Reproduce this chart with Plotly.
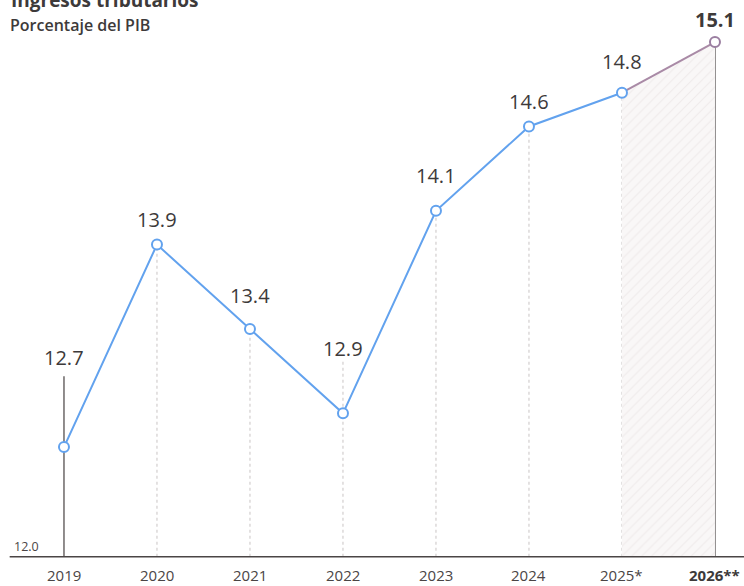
import plotly.graph_objects as go

years = ["2019", "2020", "2021", "2022", "2023", "2024", "2025*", "2026**"]
values = [12.7, 13.9, 13.4, 12.9, 14.1, 14.6, 14.8, 15.1]
value_labels = ["12.7", "13.9", "13.4", "12.9", "14.1", "14.6", "14.8", "15.1"]
base_label = "12.0"
title = "Ingresos tributarios"
subtitle = "Porcentaje del PIB"

# style
FLOOR = 12.05   # drawing level of the baseline
label_shift = [90, 25, 33, 65, 35, 25, 31, 23]
BLUE = "#62a2ee"
PURPLE = "#a98aa6"
TXT = "#3d3a3a"
FONT = "Open Sans"

xs = list(range(len(years)))
fig = go.Figure()

# hatched projection area
fig.add_trace(go.Scatter(
    x=[xs[6], xs[6], xs[7], xs[7], xs[6]],
    y=[FLOOR, values[6], values[7], FLOOR, FLOOR],
    fill="toself", mode="none",
    fillcolor="rgba(245,242,242,1)",
    fillpattern=dict(shape="/", fgcolor="#e4dede", bgcolor="#f9f7f7", size=7, solidity=0.15),
    hoverinfo="skip", showlegend=False))

shapes = []
for i, v in enumerate(values):
    if i in (0, 7):
        continue
    top = v + 0.32 if i == 3 else v
    shapes.append(dict(type="line", xref="x", yref="y", x0=xs[i], x1=xs[i], y0=FLOOR, y1=top,
                       line=dict(color="#c9c4c4", width=1, dash="dot"), layer="below"))
shapes.append(dict(type="line", xref="x", yref="y", x0=xs[0], x1=xs[0], y0=FLOOR, y1=values[0] + 0.42,
                   line=dict(color="#555050", width=1.3), layer="below"))
shapes.append(dict(type="line", xref="x", yref="y", x0=xs[7], x1=xs[7], y0=FLOOR, y1=values[7],
                   line=dict(color="#555050", width=1.3), layer="below"))
shapes.append(dict(type="line", xref="paper", yref="y", x0=0.013, x1=1, y0=FLOOR, y1=FLOOR,
                   line=dict(color="#4a4545", width=1.5)))

fig.add_trace(go.Scatter(x=xs[:7], y=values[:7], mode="lines",
                         line=dict(color=BLUE, width=2), hoverinfo="skip", showlegend=False))
fig.add_trace(go.Scatter(x=xs[6:], y=values[6:], mode="lines",
                         line=dict(color=PURPLE, width=2), hoverinfo="skip", showlegend=False))
fig.add_trace(go.Scatter(x=xs, y=values, mode="markers",
                         marker=dict(size=10, color="white",
                                     line=dict(color=[BLUE] * 7 + ["#9a7ea0"], width=2)),
                         hoverinfo="skip", showlegend=False))

ann = []
for i, v in enumerate(values):
    ann.append(dict(x=xs[i], y=v, xref="x", yref="y", text=value_labels[i], showarrow=False,
                    yshift=label_shift[i], yanchor="middle",
                    font=dict(family=FONT, size=20, color=TXT,
                              weight="bold" if i == 7 else "normal")))
for i, y in enumerate(years):
    ann.append(dict(x=xs[i], y=FLOOR, xref="x", yref="y", text=y, showarrow=False,
                    yshift=-18, yanchor="middle",
                    font=dict(family=FONT, size=15, color=TXT if i == 7 else "#4a4545",
                              weight="bold" if i == 7 else "normal")))
ann.append(dict(x=0.016, y=FLOOR, xref="paper", yref="y", text=base_label, showarrow=False,
                xanchor="left", yanchor="bottom", yshift=0,
                font=dict(family=FONT, size=12.5, color="#4a4545")))
ann.append(dict(x=0.012, y=1.0, xref="paper", yref="paper", text="<b>" + title + "</b>", showarrow=False,
                xanchor="left", yanchor="middle",
                font=dict(family=FONT, size=19, color=TXT)))
ann.append(dict(x=0.011, y=0.957, xref="paper", yref="paper", text=subtitle, showarrow=False,
                xanchor="left", yanchor="middle",
                font=dict(family=FONT, size=16, color=TXT, weight=600)))

fig.update_layout(
    width=744, height=586,
    margin=dict(l=0, r=0, t=0, b=0),
    paper_bgcolor="white", plot_bgcolor="white",
    xaxis=dict(range=[-0.688, 7.312], visible=False, fixedrange=True),
    yaxis=dict(range=[11.8766, 15.3494], visible=False, fixedrange=True),
    shapes=shapes, annotations=ann,
    font=dict(family=FONT),
)

fig.write_html("out.html", config={"displayModeBar": False},
               post_script="document.body.style.margin='0';document.body.style.overflow='hidden';")
